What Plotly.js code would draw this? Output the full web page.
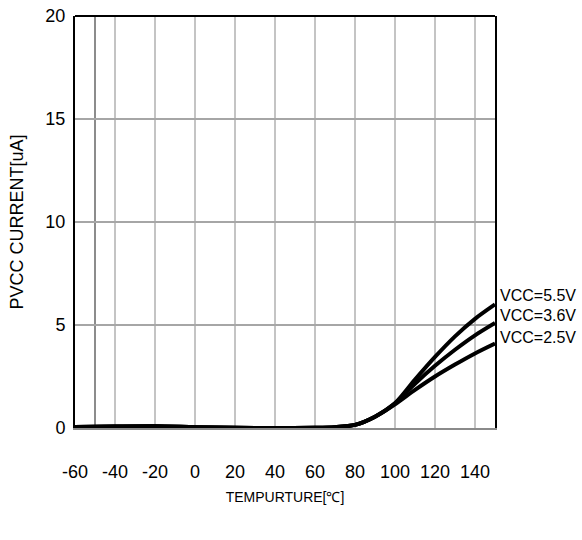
<!DOCTYPE html>
<html>
<head>
<meta charset="utf-8">
<script src="https://cdn.plot.ly/plotly-3.0.1.min.js"></script>
<style>html,body{margin:0;padding:0;background:#fff;}#chart{width:582px;height:540px;}</style>
</head>
<body>
<div id="chart"></div>
<script>
const temps = [-60, -40, -20, 0, 20, 40, 60, 70, 80, 90, 100, 110, 120, 130, 140, 150];
const vcc55 = [0.05, 0.07, 0.08, 0.04, 0.01, 0.0, 0.01, 0.04, 0.15, 0.55, 1.2, 2.35, 3.45, 4.45, 5.3, 6.0];
const vcc36 = [0.05, 0.07, 0.08, 0.04, 0.01, 0.0, 0.01, 0.04, 0.15, 0.55, 1.2, 2.15, 3.02, 3.8, 4.5, 5.1];
const vcc25 = [0.05, 0.07, 0.08, 0.04, 0.01, 0.0, 0.01, 0.04, 0.15, 0.55, 1.15, 1.85, 2.5, 3.08, 3.62, 4.1];
const seriesNames = ["VCC=5.5V", "VCC=3.6V", "VCC=2.5V"];
const xTicks = [-60, -40, -20, 0, 20, 40, 60, 80, 100, 120, 140];
const yTicks = [0, 5, 10, 15, 20];

const font = "Liberation Sans, Arial, sans-serif";
const series = [vcc55, vcc36, vcc25];
const labelShift = [9, 7, 6];
const traces = series.map((ys, i) => ({
  x: temps, y: ys, type: "scatter", mode: "lines", name: seriesNames[i],
  line: {color: "#000", width: 4, shape: "spline", smoothing: 0.8},
  showlegend: false
}));

const annotations = series.map((ys, i) => ({
  x: temps[temps.length - 1], y: ys[ys.length - 1], xref: "x", yref: "y",
  text: seriesNames[i], showarrow: false, xanchor: "left", yanchor: "middle",
  xshift: 3, yshift: labelShift[i],
  font: {family: font, size: 16, color: "#000"}
}));

const layout = {
  width: 582, height: 540,
  margin: {l: 75, r: 87, t: 16, b: 112},
  paper_bgcolor: "#fff", plot_bgcolor: "#fff",
  font: {family: font, color: "#000"},
  xaxis: {
    range: [-60, 150], tickvals: xTicks, ticktext: xTicks.map(String),
    showgrid: true, gridcolor: "#c4c4c4", gridwidth: 2,
    zeroline: false, showline: true, linecolor: "#8a8a8a", linewidth: 2,
    ticks: "", ticklabelstandoff: 26,
    tickfont: {family: font, size: 18, color: "#000"},
    title: {text: "TEMPURTURE[℃]", font: {family: font, size: 14, color: "#000"}, standoff: 12}
  },
  yaxis: {
    range: [0, 20], tickvals: yTicks, ticktext: yTicks.map(String),
    showgrid: true, gridcolor: "#a6a6a6", gridwidth: 2,
    zeroline: false, showline: true, linecolor: "#000", linewidth: 2, mirror: true,
    ticks: "", ticklabelstandoff: 4,
    tickfont: {family: font, size: 18, color: "#000"},
    title: {text: "PVCC CURRENT[uA]", font: {family: font, size: 18, color: "#000"}, standoff: 17}
  },
  shapes: [
    {type: "line", xref: "paper", yref: "paper", x0: 0, x1: 1, y0: 1, y1: 1, line: {color: "#000", width: 2}},
    {type: "line", xref: "x", yref: "paper", x0: -50, x1: -50, y0: 0, y1: 1, line: {color: "#8c8c8c", width: 2}, layer: "below"}
  ],
  annotations: annotations
};

Plotly.newPlot("chart", traces, layout, {displayModeBar: false, staticPlot: true});
</script>
</body>
</html>
